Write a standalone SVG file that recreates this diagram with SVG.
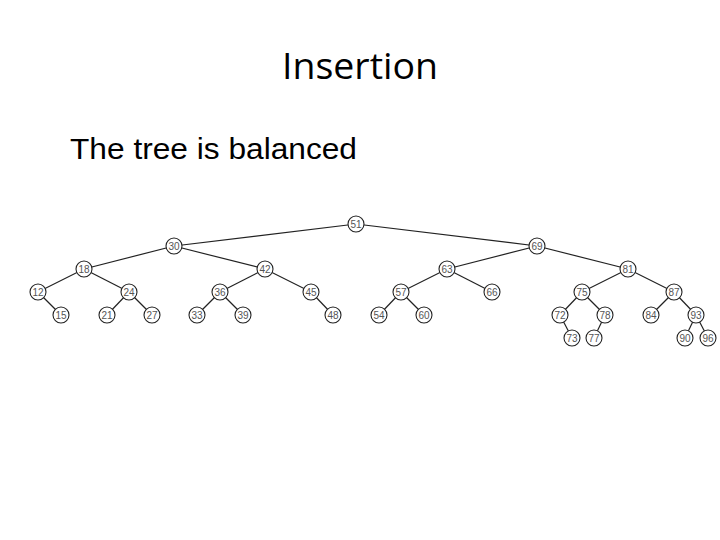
<svg xmlns="http://www.w3.org/2000/svg" width="720" height="540" viewBox="0 0 720 540">
<style>
.n circle{fill:#fff;stroke:#222;stroke-width:1.1}
.n text{font-family:"Liberation Sans",Arial,sans-serif;font-size:10px;fill:#555;text-anchor:middle;dominant-baseline:central}
#edges line{stroke:#222;stroke-width:1.2}
</style>
<rect width="720" height="540" fill="#fff"/>
<text x="360" y="79" font-family="'Open Sans','Liberation Sans',sans-serif" font-size="36" text-anchor="middle" textLength="156" lengthAdjust="spacingAndGlyphs">Insertion</text>
<text x="70" y="159" font-family="'Liberation Sans',Arial,sans-serif" font-size="29" textLength="287" lengthAdjust="spacingAndGlyphs">The tree is balanced</text>
<g id="edges">
<line x1="356" y1="224" x2="174" y2="246"/>
<line x1="356" y1="224" x2="537" y2="246"/>
<line x1="174" y1="246" x2="84" y2="269"/>
<line x1="174" y1="246" x2="265" y2="269"/>
<line x1="537" y1="246" x2="447" y2="269"/>
<line x1="537" y1="246" x2="628" y2="269"/>
<line x1="84" y1="269" x2="38" y2="292"/>
<line x1="84" y1="269" x2="129" y2="292"/>
<line x1="265" y1="269" x2="220" y2="292"/>
<line x1="265" y1="269" x2="311" y2="292"/>
<line x1="447" y1="269" x2="401" y2="292"/>
<line x1="447" y1="269" x2="492" y2="292"/>
<line x1="628" y1="269" x2="582" y2="292"/>
<line x1="628" y1="269" x2="674" y2="292"/>
<line x1="38" y1="292" x2="61" y2="315"/>
<line x1="129" y1="292" x2="107" y2="315"/>
<line x1="129" y1="292" x2="152" y2="315"/>
<line x1="220" y1="292" x2="197" y2="315"/>
<line x1="220" y1="292" x2="243" y2="315"/>
<line x1="311" y1="292" x2="333" y2="315"/>
<line x1="401" y1="292" x2="379" y2="315"/>
<line x1="401" y1="292" x2="424" y2="315"/>
<line x1="582" y1="292" x2="560" y2="315"/>
<line x1="582" y1="292" x2="605" y2="315"/>
<line x1="674" y1="292" x2="651" y2="315"/>
<line x1="674" y1="292" x2="696" y2="315"/>
<line x1="560" y1="315" x2="572" y2="338"/>
<line x1="605" y1="315" x2="594" y2="338"/>
<line x1="696" y1="315" x2="685" y2="338"/>
<line x1="696" y1="315" x2="708" y2="338"/>
</g>
<g id="n51" class="n"><circle cx="356" cy="224" r="8"/><text x="356" y="224">51</text></g>
<g id="n30" class="n"><circle cx="174" cy="246" r="8"/><text x="174" y="246">30</text></g>
<g id="n69" class="n"><circle cx="537" cy="246" r="8"/><text x="537" y="246">69</text></g>
<g id="n18" class="n"><circle cx="84" cy="269" r="8"/><text x="84" y="269">18</text></g>
<g id="n42" class="n"><circle cx="265" cy="269" r="8"/><text x="265" y="269">42</text></g>
<g id="n63" class="n"><circle cx="447" cy="269" r="8"/><text x="447" y="269">63</text></g>
<g id="n81" class="n"><circle cx="628" cy="269" r="8"/><text x="628" y="269">81</text></g>
<g id="n12" class="n"><circle cx="38" cy="292" r="8"/><text x="38" y="292">12</text></g>
<g id="n24" class="n"><circle cx="129" cy="292" r="8"/><text x="129" y="292">24</text></g>
<g id="n36" class="n"><circle cx="220" cy="292" r="8"/><text x="220" y="292">36</text></g>
<g id="n45" class="n"><circle cx="311" cy="292" r="8"/><text x="311" y="292">45</text></g>
<g id="n57" class="n"><circle cx="401" cy="292" r="8"/><text x="401" y="292">57</text></g>
<g id="n66" class="n"><circle cx="492" cy="292" r="8"/><text x="492" y="292">66</text></g>
<g id="n75" class="n"><circle cx="582" cy="292" r="8"/><text x="582" y="292">75</text></g>
<g id="n87" class="n"><circle cx="674" cy="292" r="8"/><text x="674" y="292">87</text></g>
<g id="n15" class="n"><circle cx="61" cy="315" r="8"/><text x="61" y="315">15</text></g>
<g id="n21" class="n"><circle cx="107" cy="315" r="8"/><text x="107" y="315">21</text></g>
<g id="n27" class="n"><circle cx="152" cy="315" r="8"/><text x="152" y="315">27</text></g>
<g id="n33" class="n"><circle cx="197" cy="315" r="8"/><text x="197" y="315">33</text></g>
<g id="n39" class="n"><circle cx="243" cy="315" r="8"/><text x="243" y="315">39</text></g>
<g id="n48" class="n"><circle cx="333" cy="315" r="8"/><text x="333" y="315">48</text></g>
<g id="n54" class="n"><circle cx="379" cy="315" r="8"/><text x="379" y="315">54</text></g>
<g id="n60" class="n"><circle cx="424" cy="315" r="8"/><text x="424" y="315">60</text></g>
<g id="n72" class="n"><circle cx="560" cy="315" r="8"/><text x="560" y="315">72</text></g>
<g id="n78" class="n"><circle cx="605" cy="315" r="8"/><text x="605" y="315">78</text></g>
<g id="n84" class="n"><circle cx="651" cy="315" r="8"/><text x="651" y="315">84</text></g>
<g id="n93" class="n"><circle cx="696" cy="315" r="8"/><text x="696" y="315">93</text></g>
<g id="n73" class="n"><circle cx="572" cy="338" r="8"/><text x="572" y="338">73</text></g>
<g id="n77" class="n"><circle cx="594" cy="338" r="8"/><text x="594" y="338">77</text></g>
<g id="n90" class="n"><circle cx="685" cy="338" r="8"/><text x="685" y="338">90</text></g>
<g id="n96" class="n"><circle cx="708" cy="338" r="8"/><text x="708" y="338">96</text></g>
</svg>
